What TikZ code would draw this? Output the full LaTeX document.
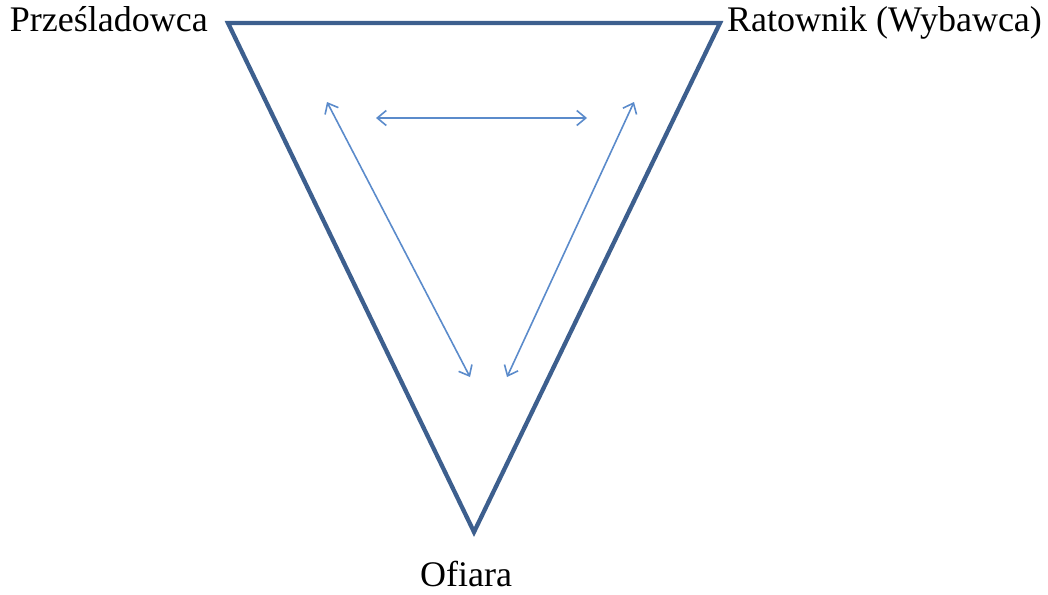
\documentclass[tikz,border=0pt]{standalone}
\usepackage{fontspec}
\setmainfont{Liberation Serif}
\usetikzlibrary{arrows.meta}
\definecolor{tri}{HTML}{3D5F8E}
\definecolor{arr}{HTML}{5B8BCB}
\begin{document}
\begin{tikzpicture}[x=1pt,y=-1pt,
  lbl/.style={inner sep=0pt,font=\fontsize{36}{42}\selectfont},
  rel/.style={draw=arr,line width=1.6pt,{Straight Barb[length=9pt,width=15pt,line width=1.6pt]}-{Straight Barb[length=9pt,width=15pt,line width=1.6pt]}}]
\useasboundingbox (0,0) rectangle (1048,594);
\coordinate (A) at (228,23);
\coordinate (B) at (720,23);
\coordinate (C) at (474,532);
\draw[tri,line width=4.3pt,line join=miter] (A) -- (B) -- (C) -- cycle;
\node[lbl,anchor=base east] (pl) at (208,32) {Prześladowca};
\node[lbl,anchor=base west] (rl) at (727,32) {Ratownik (Wybawca)};
\node[lbl,anchor=base] (ol) at (466,586) {Ofiara};
\coordinate (h1) at (376,118);
\coordinate (h2) at (587,118);
\coordinate (l1) at (327,102);
\coordinate (l2) at (470,377);
\coordinate (r1) at (634,102);
\coordinate (r2) at (507,377);
\draw[rel] (h1) -- (h2);
\draw[rel] (l1) -- (l2);
\draw[rel] (r1) -- (r2);
\end{tikzpicture}
\end{document}
